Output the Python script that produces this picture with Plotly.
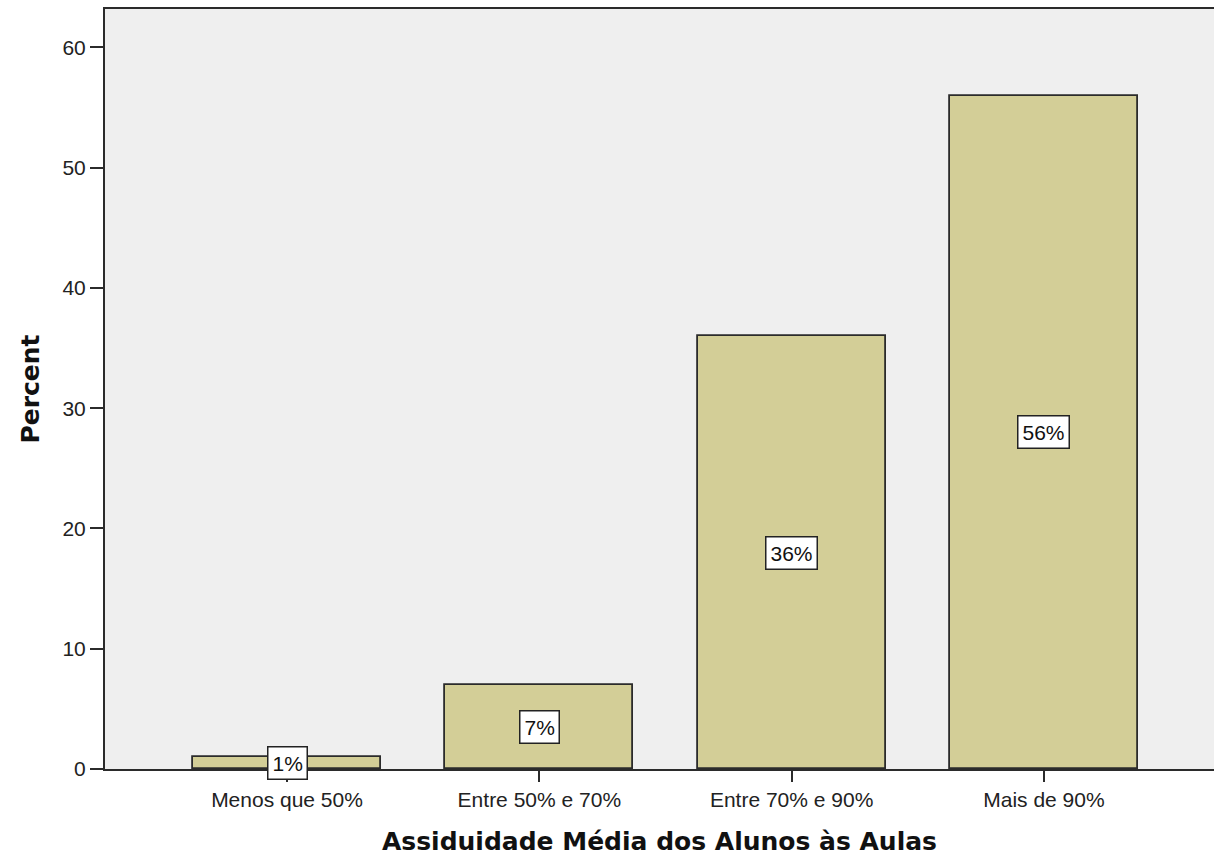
import plotly.graph_objects as go

categories = ["Menos que 50%", "Entre 50% e 70%", "Entre 70% e 90%", "Mais de 90%"]
percent_values = [1, 7, 36, 56]
percent_labels = ["1%", "7%", "36%", "56%"]
y_ticks = [0, 10, 20, 30, 40, 50, 60]

x_pos = list(range(len(categories)))

fig = go.Figure()
fig.add_trace(go.Bar(
    x=x_pos, y=percent_values, width=0.745,
    marker=dict(color="#D3CE97", line=dict(color="#2b2b2b", width=1.8)),
    hoverinfo="skip",
))

for xp, v, lab in zip(x_pos, percent_values, percent_labels):
    fig.add_annotation(
        x=xp, y=v / 2, text=lab, showarrow=False,
        font=dict(family="Liberation Sans, Arial, sans-serif", size=21, color="#111"),
        bgcolor="white", bordercolor="#222", borderwidth=1.5, borderpad=4,
        xanchor="center", yanchor="middle",
    )

fig.update_layout(
    width=1214, height=857,
    margin=dict(l=105, r=0, t=9, b=88),
    paper_bgcolor="white", plot_bgcolor="#EFEFEF",
    showlegend=False, bargap=0,
    font=dict(family="Liberation Sans, Arial, sans-serif", size=21, color="#222"),
)
fig.update_xaxes(
    range=[-0.7214, 3.674], tickmode="array", tickvals=x_pos, ticktext=categories,
    showline=True, linecolor="#2b2b2b", linewidth=2, mirror=True,
    ticks="outside", ticklen=11, tickwidth=1.5, tickcolor="#2b2b2b",
    showgrid=False, zeroline=False, automargin=False,
    tickfont=dict(size=21, color="#222"),
    title=dict(text="<b>Assiduidade Média dos Alunos às Aulas</b>",
               font=dict(family="DejaVu Sans, Verdana, sans-serif", size=25, color="#111"),
               standoff=22),
)
fig.update_yaxes(
    range=[0, 63.2], tickmode="array", tickvals=y_ticks,
    showline=True, linecolor="#2b2b2b", linewidth=2,
    ticks="outside", ticklen=13, tickwidth=2, tickcolor="#2b2b2b",
    showgrid=False, zeroline=False, automargin=False,
    tickfont=dict(size=21, color="#222"),
    title=dict(text="<b>Percent</b>",
               font=dict(family="DejaVu Sans, Verdana, sans-serif", size=25, color="#111"),
               standoff=16),
)

fig.write_html(
    "out.html",
    config={"displayModeBar": False},
    post_script="document.body.style.margin='0';document.documentElement.style.overflow='hidden';",
)
